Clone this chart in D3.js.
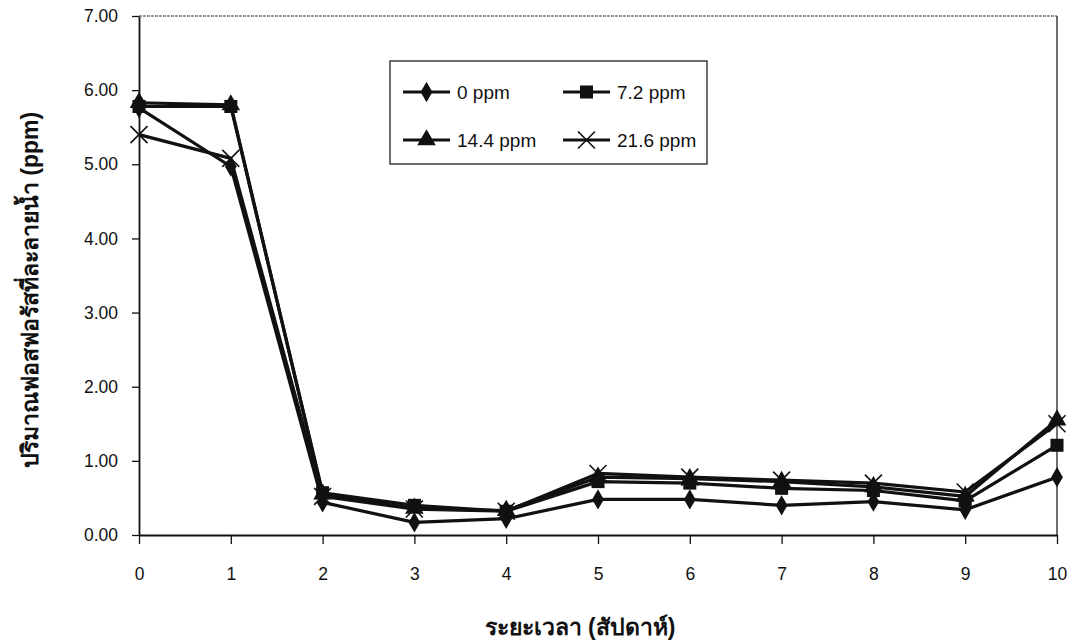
<!DOCTYPE html>
<html>
<head>
<meta charset="utf-8">
<script src="https://cdn.jsdelivr.net/npm/d3@7"></script>
<style>
	body { margin: 0; background: #fff; }
	#chart { width: 1074px; height: 641px; }
	text { font-family: "Liberation Sans", Arial, sans-serif; fill: #111; }
</style>
</head>
<body>
<div id="chart"></div>
<script>
var weeks = ['0', '1', '2', '3', '4', '5', '6', '7', '8', '9', '10'];
var yTicks = [0, 1, 2, 3, 4, 5, 6, 7];
var seriesNames = ['0 ppm', '7.2 ppm', '14.4 ppm', '21.6 ppm'];
var seriesSymbols = ['diamond', 'square', 'triangle', 'cross'];
var ppm0 = [5.76, 4.97, 0.44, 0.17, 0.22, 0.48, 0.48, 0.40, 0.45, 0.34, 0.78];
var ppm72 = [5.78, 5.78, 0.57, 0.40, 0.32, 0.72, 0.70, 0.63, 0.60, 0.46, 1.21];
var ppm144 = [5.83, 5.80, 0.55, 0.36, 0.33, 0.78, 0.76, 0.72, 0.65, 0.52, 1.55];
var ppm216 = [5.40, 5.08, 0.52, 0.35, 0.32, 0.83, 0.78, 0.74, 0.70, 0.58, 1.50];
var xTitle = 'ระยะเวลา (สัปดาห์)';
var yTitle = 'ปริมาณฟอสฟอรัสที่ละลายน้ำ (ppm)';

function Chart(options) {
	this.options = options || {};
	this.container = this.options.container || '#chart';
	this.width = 1074;
	this.height = 641;
	this.left = 139;
	this.right = 1057;
	this.top = 16;
	this.bottom = 535;
	this.init();
}

Chart.prototype = {
	constructor: Chart,

	init: function () {
		this.svg = d3.select(this.container).append('svg')
			.attr('width', this.width).attr('height', this.height);
		this.x = d3.scalePoint().domain(weeks).range([this.left, this.right]).padding(0);
		this.y = d3.scaleLinear().domain([0, 7]).range([this.bottom, this.top]);
		this.series = [ppm0, ppm72, ppm144, ppm216];
		this.draw();
	},

	draw: function () {
		this.drawFrame();
		this.drawAxes();
		this.drawSeries();
		this.drawLegend();
		this.drawTitles();
	},

	drawFrame: function () {
		// top border is a thin dotted line in the scan, right border solid
		this.svg.append('line')
			.attr('x1', this.left).attr('x2', this.right)
			.attr('y1', this.top).attr('y2', this.top)
			.attr('stroke', '#333').attr('stroke-width', 1.2)
			.attr('stroke-dasharray', '3,1');
		this.svg.append('line')
			.attr('x1', this.right).attr('x2', this.right)
			.attr('y1', this.top).attr('y2', this.bottom)
			.attr('stroke', '#222').attr('stroke-width', 1.3);
	},

	drawAxes: function () {
		var yAxis = d3.axisLeft(this.y).tickValues(yTicks)
			.tickFormat(d3.format('.2f')).tickSize(7).tickSizeOuter(0).tickPadding(14);
		var gy = this.svg.append('g').attr('transform', 'translate(' + this.left + ',0)').call(yAxis);
		gy.selectAll('text').style('font-size', '17.5px');

		var xAxis = d3.axisBottom(this.x).tickSize(9).tickSizeOuter(0).tickPadding(24);
		var gx = this.svg.append('g').attr('transform', 'translate(0,' + this.bottom + ')').call(xAxis);
		gx.selectAll('text').style('font-size', '17.5px');

		[gx, gy].forEach(function (g) {
			g.select('.domain').attr('stroke', '#111').attr('stroke-width', 1.8);
			g.selectAll('.tick line').attr('stroke', '#111').attr('stroke-width', 1.3);
		});
	},

	symbolPath: function (kind) {
		var map = {
			diamond: d3.symbol().type(d3.symbolDiamond).size(120),
			square: d3.symbol().type(d3.symbolSquare).size(170),
			triangle: d3.symbol().type(d3.symbolTriangle).size(150),
			cross: d3.symbol().type(d3.symbolX).size(190)
		};
		return map[kind]();
	},

	drawMarker: function (g, kind, cx, cy) {
		var p = g.append('path')
			.attr('d', this.symbolPath(kind))
			.attr('transform', 'translate(' + cx + ',' + cy + ')');
		if (kind === 'cross') {
			p.attr('fill', 'none').attr('stroke', '#111').attr('stroke-width', 1.6);
		} else {
			p.attr('fill', '#111');
		}
	},

	drawSeries: function () {
		var self = this;
		var line = d3.line()
			.x(function (d, i) { return self.x(weeks[i]); })
			.y(function (d) { return self.y(d); });

		for (var s = 0; s < this.series.length; s++) {
			var g = this.svg.append('g').attr('class', 'series-' + s);
			g.append('path')
				.attr('d', line(this.series[s]))
				.attr('fill', 'none')
				.attr('stroke', '#111')
				.attr('stroke-width', 3.2)
				.attr('stroke-linejoin', 'round');
			for (var i = 0; i < this.series[s].length; i++) {
				this.drawMarker(g, seriesSymbols[s], this.x(weeks[i]), this.y(this.series[s][i]));
			}
		}
	},

	drawLegend: function () {
		var lg = this.svg.append('g').attr('class', 'legend');
		lg.append('rect')
			.attr('x', 390).attr('y', 61).attr('width', 317).attr('height', 103)
			.attr('fill', '#fff').attr('stroke', '#222').attr('stroke-width', 1.3);

		var cols = [403, 563];
		var rows = [92, 140];
		for (var s = 0; s < seriesNames.length; s++) {
			var lx = cols[s % 2];
			var ly = rows[Math.floor(s / 2)];
			lg.append('line')
				.attr('x1', lx).attr('x2', lx + 47)
				.attr('y1', ly).attr('y2', ly)
				.attr('stroke', '#111').attr('stroke-width', 3);
			this.drawMarker(lg, seriesSymbols[s], lx + 23.5, ly);
			lg.append('text')
				.attr('x', lx + 54).attr('y', ly)
				.attr('dy', '0.36em')
				.style('font-size', '19px')
				.text(seriesNames[s]);
		}
	},

	drawTitles: function () {
		this.svg.append('text')
			.attr('x', 580).attr('y', 627)
			.attr('text-anchor', 'middle').attr('dy', '0.35em')
			.style('font-size', '23px').style('font-weight', 'bold')
			.text(xTitle);
		this.svg.append('text')
			.attr('transform', 'translate(30,290) rotate(-90)')
			.attr('text-anchor', 'middle').attr('dy', '0.35em')
			.style('font-size', '23px').style('font-weight', 'bold')
			.text(yTitle);
	}
};

var chart = new Chart({ container: '#chart' });
</script>
</body>
</html>
